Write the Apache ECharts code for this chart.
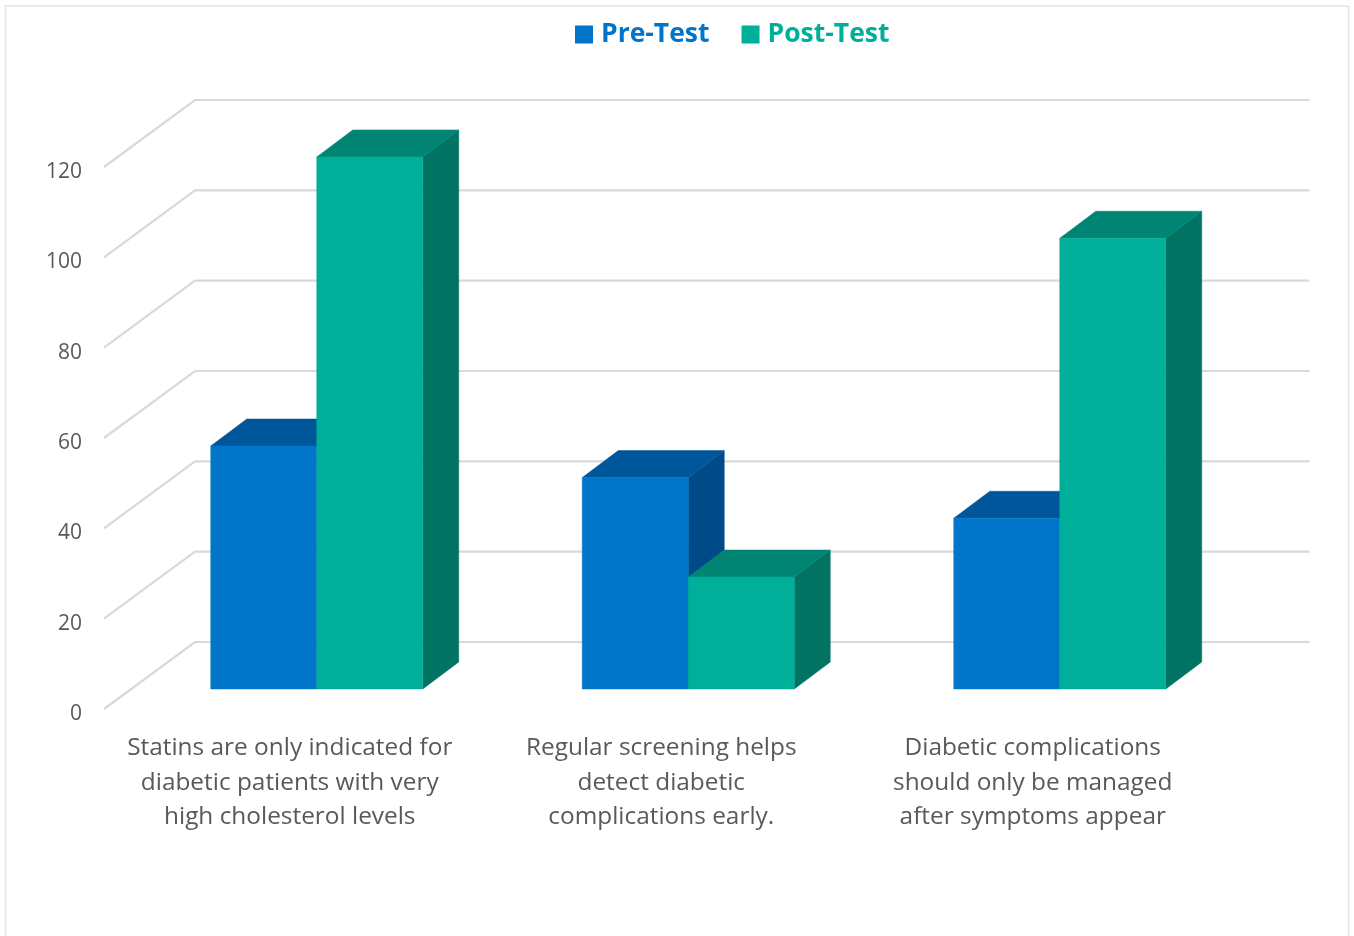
<!DOCTYPE html>
<html>
<head>
<meta charset="utf-8">
<style>html,body{margin:0;padding:0;background:#fff;overflow:hidden}#c{width:1354px;height:936px}</style>
<script src="https://cdn.jsdelivr.net/npm/echarts@6/dist/echarts.min.js"></script>
</head>
<body>
<div id="c"></div>
<script>
const categories = [
  "Statins are only indicated for\ndiabetic patients with very\nhigh cholesterol levels",
  "Regular screening helps\ndetect diabetic\ncomplications early.",
  "Diabetic complications\nshould only be managed\nafter symptoms appear"
];
const preTest = [53.8, 46.8, 37.8];
const postTest = [117.8, 24.8, 99.8];
const yTicks = [0, 20, 40, 60, 80, 100, 120];

const WALL = [91, -67];      // front floor edge to back wall
const GAP = [27, -20];       // front floor edge to bar front
const DEPTH = [36, -27];     // bar depth
const BAR_FRAC = 106 / 371.5;
const FONT = '"Open Sans", "Noto Sans", sans-serif';

function poly(points, fill) {
  return { type: 'polygon', shape: { points }, style: { fill, stroke: fill, lineWidth: 0.5 } };
}
function barRenderer(seriesIdx, front, top, side) {
  return function (params, api) {
    const cat = api.value(0), val = api.value(1);
    const t = api.coord([cat, val]), b = api.coord([cat, 0]);
    const w = api.size([1, 0])[0] * BAR_FRAC;
    const x0 = t[0] + GAP[0] + (seriesIdx === 0 ? -w : 0), x1 = x0 + w;
    const yT = t[1] + GAP[1], yB = b[1] + GAP[1];
    const dx = DEPTH[0], dy = DEPTH[1];
    return {
      type: 'group',
      children: [
        poly([[x1, yT], [x1 + dx, yT + dy], [x1 + dx, yB + dy], [x1, yB]], side),
        poly([[x0, yT], [x0 + dx, yT + dy], [x1 + dx, yT + dy], [x1, yT]], top),
        poly([[x0, yT], [x1, yT], [x1, yB], [x0, yB]], front)
      ]
    };
  };
}
function gridRenderer(params, api) {
  const v = api.value(0);
  const s = params.coordSys;
  const p = api.coord([0, v]);
  const xL = s.x, xR = s.x + s.width;
  return {
    type: 'polyline',
    shape: { points: [[xL, p[1]], [xL + WALL[0], p[1] + WALL[1]], [xR + WALL[0], p[1] + WALL[1]]] },
    style: { fill: 'none', stroke: '#d9d9d9', lineWidth: 2.2 }
  };
}

const chart = echarts.init(document.getElementById('c'), null, { renderer: 'canvas' });
chart.setOption({
  animation: false,
  backgroundColor: '#ffffff',
  graphic: [{
    type: 'rect', silent: true, z: -1,
    shape: { x: 5.5, y: 6, width: 1343, height: 1000 },
    style: { fill: '#fff', stroke: '#e4e4e4', lineWidth: 1.5 }
  }],
  legend: {
    top: 16, left: 570, icon: 'rect', itemWidth: 18, itemHeight: 18, itemGap: 32,
    data: [
      { name: 'Pre-Test', textStyle: { color: '#0075c9' } },
      { name: 'Post-Test', textStyle: { color: '#00af9a' } }
    ],
    textStyle: { fontFamily: FONT, fontSize: 26.5, fontWeight: 700, padding: [0, 0, 0, 3] }
  },
  grid: { left: 104, top: 167, width: 1114.5, height: 542 },
  xAxis: {
    type: 'category', data: categories,
    axisLine: { show: false }, axisTick: { show: false }, splitLine: { show: false },
    axisLabel: {
      interval: 0, margin: 22, color: '#595959', fontFamily: FONT, fontSize: 24.4,
      lineHeight: 34.4, align: 'center', verticalAlign: 'top'
    }
  },
  yAxis: {
    type: 'value', min: 0, max: 120, interval: 20,
    axisLine: { show: false }, axisTick: { show: false }, splitLine: { show: false },
    axisLabel: {
      margin: 22, formatter: '{a|{value}}',
      rich: { a: { color: '#595959', fontFamily: FONT, fontSize: 21, padding: [10, 0, 0, 0] } }
    }
  },
  series: [
    { type: 'custom', name: 'grid', silent: true, z: 1, clip: false,
      data: yTicks.map(v => [v]), encode: { y: 0 }, renderItem: gridRenderer },
    { type: 'custom', name: 'Pre-Test', z: 2, clip: false, itemStyle: { color: '#0075c9' },
      data: preTest.map((v, i) => [i, v]), encode: { x: 0, y: 1 },
      renderItem: barRenderer(0, '#0075c9', '#00569a', '#004b87') },
    { type: 'custom', name: 'Post-Test', z: 3, clip: false, itemStyle: { color: '#00af9a' },
      data: postTest.map((v, i) => [i, v]), encode: { x: 0, y: 1 },
      renderItem: barRenderer(1, '#00af9a', '#008575', '#007363') }
  ]
});
</script>
</body>
</html>
